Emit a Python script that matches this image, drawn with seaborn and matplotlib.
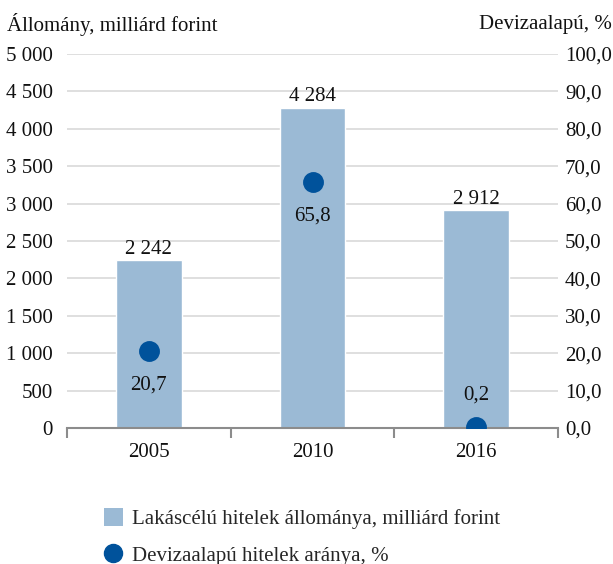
import matplotlib
matplotlib.use("Agg")
import matplotlib.pyplot as plt
from matplotlib.ticker import FuncFormatter, FixedLocator
from matplotlib.lines import Line2D
from matplotlib.patches import Patch
import seaborn as sns
import pandas as pd

# Data
years = ["2005", "2010", "2016"]
housing_loans = [2242, 4284, 2912]          # milliárd forint
fx_share = [20.7, 65.8, 0.2]                # %
fx_label_side = ["below", "below", "above"]

left_title = "Állomány, milliárd forint"
right_title = "Devizaalapú, %"
bar_legend = "Lakáscélú hitelek állománya, milliárd forint"
dot_legend = "Devizaalapú hitelek aránya, %"

BAR_COLOR = "#9bbad5"
DOT_COLOR = "#00529b"
GRID_COLOR = "#d9d9d9"
AXIS_COLOR = "#8c8c8c"
FS = 15

sns.set_theme(style="white")
plt.rcParams["font.family"] = ["Liberation Serif", "DejaVu Serif"]

df = pd.DataFrame({"year": years, "loans": housing_loans, "share": fx_share})

fig = plt.figure(figsize=(6.13, 5.64), dpi=100)
ax = fig.add_axes([67 / 613, 1 - 428 / 564, (558 - 67) / 613, (428 - 54) / 564])
ax2 = ax.twinx()

sns.barplot(data=df, x="year", y="loans", ax=ax, color=BAR_COLOR,
            width=0.4, saturation=1, zorder=2)
sns.pointplot(data=df, x="year", y="share", ax=ax2, color=DOT_COLOR,
              linestyle="none", markers="o", markersize=13, errorbar=None)

# Left axis
ax.set_ylim(0, 5000)
ax.set_yticks(range(0, 5001, 500))
ax.yaxis.set_major_formatter(FuncFormatter(lambda v, p: f"{int(v):,}".replace(",", " ")))
ax.grid(axis="y", color=GRID_COLOR, linewidth=1.2, zorder=0)
ax.set_axisbelow(True)
ax.tick_params(axis="y", length=0, pad=10, labelsize=FS, colors="#111111")

# Right axis
ax2.set_ylim(0, 100)
ax2.set_yticks(range(0, 101, 10))
ax2.yaxis.set_major_formatter(FuncFormatter(lambda v, p: f"{v:.1f}".replace(".", ",")))
ax2.tick_params(axis="y", length=0, pad=5, labelsize=FS, colors="#111111")
ax2.grid(False)

# Category axis: labels centred, tick marks at category boundaries
ax.set_xlim(-0.5, len(years) - 0.5)
ax.set_xticks(range(len(years)))
ax.set_xticklabels(years)
ax.xaxis.set_minor_locator(FixedLocator([i - 0.5 for i in range(len(years) + 1)]))
ax.tick_params(axis="x", which="major", length=0, pad=11, labelsize=FS, colors="#111111")
ax.tick_params(axis="x", which="minor", bottom=True, direction="out", length=7,
               width=1.5, color=AXIS_COLOR)
ax.set_xlabel("")
ax.set_ylabel("")
ax2.set_ylabel("")

for a in (ax, ax2):
    for side in ("top", "left", "right"):
        a.spines[side].set_visible(False)
ax2.spines["bottom"].set_visible(False)
ax.spines["bottom"].set_color(AXIS_COLOR)
ax.spines["bottom"].set_linewidth(1.5)

# Value labels
ax.bar_label(ax.containers[0],
             labels=[f"{v:,}".replace(",", " ") for v in housing_loans],
             padding=1, fontsize=FS, color="#111111")
for i, (v, side) in enumerate(zip(fx_share, fx_label_side)):
    dy = -34 if side == "below" else 32
    ax2.annotate(f"{v:.1f}".replace(".", ","), (i, v), xytext=(0, dy),
                 textcoords="offset pixels", ha="center", va="center",
                 fontsize=FS, color="#111111")

# Axis titles
fig.text(7 / 613, 1 - 24 / 564, left_title, ha="left", va="center",
         fontsize=FS, color="#111111")
fig.text(612 / 613, 1 - 24 / 564, right_title, ha="right", va="center",
         fontsize=FS, color="#111111")

# Legend
handles = [
    Patch(facecolor=BAR_COLOR, edgecolor="none"),
    Line2D([], [], linestyle="none", marker="o", markersize=13,
           markerfacecolor=DOT_COLOR, markeredgecolor=DOT_COLOR),
]
fig.legend(handles, [bar_legend, dot_legend], loc="center left",
           bbox_to_anchor=(104 / 613, 1 - 537 / 564), frameon=False,
           fontsize=FS, handlelength=0.9, handleheight=0.9, handletextpad=0.45,
           labelspacing=0.75, borderpad=0, borderaxespad=0)

fig.savefig("out.png", dpi=100)
